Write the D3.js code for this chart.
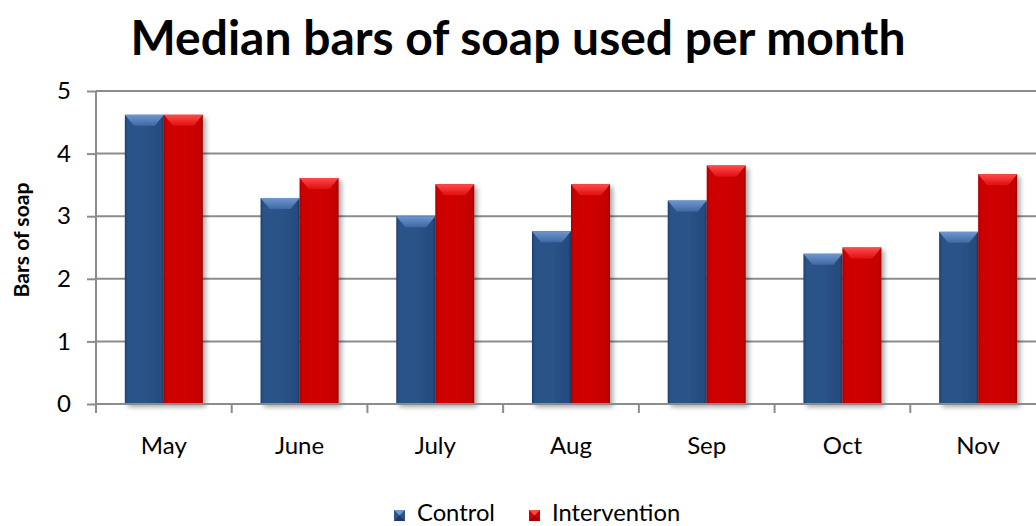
<!DOCTYPE html>
<html><head><meta charset="utf-8">
<script src="https://cdn.jsdelivr.net/npm/d3@7"></script>
<style>body{margin:0;background:#fff;} svg{display:block;}</style>
</head><body>
<svg id="c" width="1036" height="526"></svg>
<script>
const categories = ["May","June","July","Aug","Sep","Oct","Nov"];
const controlValues = [4.62, 3.29, 3.00, 2.76, 3.25, 2.40, 2.75];
const interventionValues = [4.62, 3.61, 3.51, 3.51, 3.81, 2.50, 3.67];
const seriesNames = ["Control","Intervention"];
const yTicks = [0,1,2,3,4,5];

(function(){
const svg = d3.select("#c");
const font = "Lato, 'Open Sans', sans-serif";
const pLeft = 96, pRight = 1046, pTop = 91, pBottom = 404;

const x = d3.scaleBand().domain(categories).range([pLeft, pRight]).paddingInner(0).paddingOuter(0);
const y = d3.scaleLinear().domain([0,5]).range([pBottom, pTop]);
const bw = 39;

function fit(sel, target){
  const n = sel.node(); const fs = +sel.attr("font-size");
  const w = n.getComputedTextLength();
  if (w > 0) sel.attr("font-size", (fs * target / w).toFixed(2));
  return +sel.attr("font-size");
}

const defs = svg.append("defs");
function grad(id, stops, horiz){
  const g = defs.append("linearGradient").attr("id", id)
    .attr("x1",0).attr("y1",0).attr("x2", horiz?1:0).attr("y2", horiz?0:1);
  stops.forEach(s => g.append("stop").attr("offset", s[0]).attr("stop-color", s[1]));
}
grad("gBlue", [[0,"#1d3f6b"],[0.07,"#2a5287"],[0.5,"#2b5389"],[0.93,"#264b7d"],[1,"#1b3a63"]], true);
grad("gRed", [[0,"#a80000"],[0.07,"#cc0000"],[0.5,"#d00202"],[0.93,"#c40000"],[1,"#a00000"]], true);
grad("gBlueTop", [[0,"#6f97cf"],[1,"#3e69a3"]], false);
grad("gRedTop", [[0,"#ff4a4a"],[1,"#e01010"]], false);
const f = defs.append("filter").attr("id","shadow").attr("x","-20%").attr("y","-20%").attr("width","150%").attr("height","150%");
f.append("feGaussianBlur").attr("in","SourceAlpha").attr("stdDeviation",2.5);
f.append("feOffset").attr("dx",3).attr("dy",3).attr("result","ob");
f.append("feComponentTransfer").append("feFuncA").attr("type","linear").attr("slope",0.35);
const fm = f.append("feMerge"); fm.append("feMergeNode"); fm.append("feMergeNode").attr("in","SourceGraphic");

// Title
const title = svg.append("text").attr("x", 518).attr("y", 55).attr("text-anchor","middle")
  .attr("font-family", font).attr("font-weight","bold").attr("font-size", 38).attr("fill","#000")
  .text("Median bars of soap used per month");
fit(title, 775);

// Gridlines
svg.append("g").selectAll("line").data(yTicks.filter(d=>d>0)).join("line")
  .attr("x1", pLeft).attr("x2", 1036).attr("y1", d=>y(d)).attr("y2", d=>y(d))
  .attr("stroke", "#8c8c8c").attr("stroke-width", 2);

// Y axis
const yAxis = svg.append("g").attr("transform", `translate(${pLeft},0)`)
  .call(d3.axisLeft(y).tickValues(yTicks).tickSize(9).tickPadding(16).tickFormat(d3.format("d")));
yAxis.select(".domain").attr("stroke","#8c8c8c").attr("stroke-width",2).attr("d", `M0,${pTop}V${pBottom}`);
yAxis.selectAll(".tick line").attr("stroke","#8c8c8c").attr("stroke-width",2);
yAxis.selectAll(".tick text").attr("font-family", font).attr("font-size", 22).attr("fill","#000");

// Bars
const series = [
  {name: seriesNames[0], values: controlValues, fill:"url(#gBlue)", topFill:"url(#gBlueTop)", off: 0},
  {name: seriesNames[1], values: interventionValues, fill:"url(#gRed)", topFill:"url(#gRedTop)", off: 1}
];
const barG = svg.append("g");
categories.forEach((c, i) => {
  series.forEach(s => {
    const v = s.values[i];
    const cx = x(c) + x.bandwidth()/2;
    const x0 = cx - bw + s.off*bw;
    const yt = y(v), h = y(0) - yt;
    const g = barG.append("g").attr("filter","url(#shadow)");
    g.append("rect").attr("x", x0).attr("y", yt).attr("width", bw).attr("height", h).attr("fill", s.fill);
    const bh = 11, ins = 9;
    g.append("path").attr("d", `M${x0},${yt}H${x0+bw}L${x0+bw-ins},${yt+bh}H${x0+ins}Z`).attr("fill", s.topFill);
  });
});

// X axis
const xAxis = svg.append("g").attr("transform", `translate(0,${pBottom})`);
xAxis.append("line").attr("x1", pLeft).attr("x2", 1036).attr("y1",0).attr("y2",0).attr("stroke","#8c8c8c").attr("stroke-width",2);
const tickPos = categories.map(c => x(c)).concat([x(categories[categories.length-1]) + x.bandwidth()]);
xAxis.selectAll("line.t").data(tickPos).join("line").attr("class","t")
  .attr("x1", d=>d).attr("x2", d=>d).attr("y1", 0).attr("y2", 9).attr("stroke","#8c8c8c").attr("stroke-width",2);
const xl = xAxis.selectAll("text").data(categories).join("text")
  .attr("x", d => x(d) + x.bandwidth()/2).attr("y", 50).attr("text-anchor","middle")
  .attr("font-family", font).attr("font-size", 22).attr("fill","#000").text(d=>d);
const xfs = fit(d3.select(xl.nodes()[0]), 46);
xl.attr("font-size", xfs);
yAxis.selectAll(".tick text").attr("font-size", xfs);

// Y label
const yl = svg.append("text").attr("transform", "translate(29,240) rotate(-90)").attr("text-anchor","middle")
  .attr("font-family", font).attr("font-weight","bold").attr("font-size", 19).attr("fill","#000")
  .text("Bars of soap");
fit(yl, 115);

// Legend
const legend = svg.append("g");
const legX = [394, 529];
let lfs = null;
series.forEach((s, i) => {
  const lg = legend.append("g").attr("transform", `translate(${legX[i]},510)`);
  lg.append("rect").attr("width", 11).attr("height", 11).attr("fill", s.off ? "#cc0000" : "#2b5389");
  lg.append("path").attr("d","M0,0H11L5.5,5.5Z").attr("fill", s.off ? "#ff4a4a" : "#6f97cf");
  lg.append("path").attr("d","M0,11H11L5.5,5.5Z").attr("fill", s.off ? "#990000" : "#1b3a63");
  const t = lg.append("text").attr("x", 23).attr("y", 11).attr("font-family", font).attr("font-size", 20).attr("fill","#000").text(s.name);
  if (i === 0) lfs = fit(t, 78); else t.attr("font-size", lfs);
});
})();
</script>
</body></html>
